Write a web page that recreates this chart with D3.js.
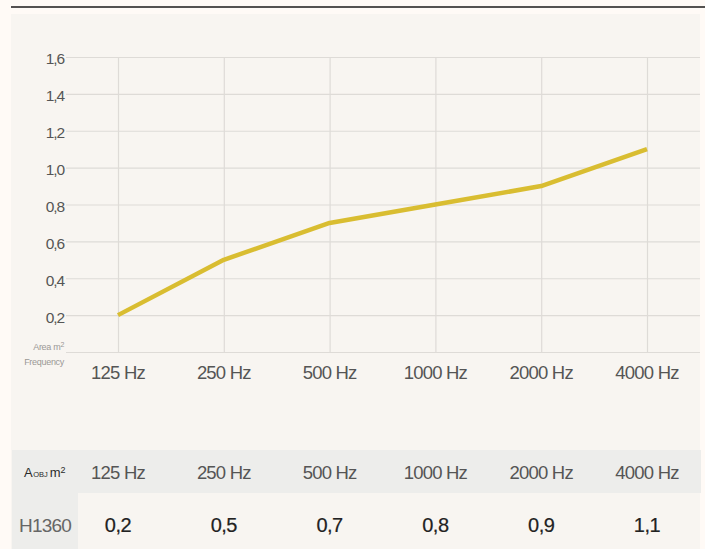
<!DOCTYPE html>
<html>
<head>
<meta charset="utf-8">
<script src="https://cdn.jsdelivr.net/npm/d3@7"></script>
<style>
  html, body { margin: 0; padding: 0; background: #fffaf6; }
  svg { display: block; font-family: "Liberation Sans", Arial, sans-serif; }
</style>
</head>
<body>
<div id="chart"></div>
<script>
// data
const frequencies = ['125 Hz', '250 Hz', '500 Hz', '1000 Hz', '2000 Hz', '4000 Hz'];
const areaValues = [0.2, 0.5, 0.7, 0.8, 0.9, 1.1];
const yTicks = [0.2, 0.4, 0.6, 0.8, 1.0, 1.2, 1.4, 1.6];
const productName = 'H1360';

const w = 705;
const h = 549;

const fmt = v => d3.format('.1f')(v).replace('.', ',');

const svg = d3.select('#chart')
  .append('svg')
  .attr('width', w)
  .attr('height', h);

// top rule
svg.append('rect')
  .attr('x', 11).attr('y', 6)
  .attr('width', w - 11).attr('height', 2)
  .attr('fill', '#545150');

// panel
svg.append('rect')
  .attr('x', 11).attr('y', 14)
  .attr('width', 689).attr('height', h - 14)
  .attr('fill', '#f8f5f1');

const xScale = d3.scalePoint()
  .domain(frequencies)
  .range([118, 647]);

const yScale = d3.scaleLinear()
  .domain([0, 1.6])
  .range([352, 57]);

// horizontal grid
const yAxis = d3.axisLeft(yScale)
  .tickValues([0].concat(yTicks))
  .tickSize(-(700 - 66))
  .tickFormat(d => d === 0 ? '' : fmt(d));

const gy = svg.append('g')
  .attr('transform', 'translate(66,0)')
  .call(yAxis);
gy.select('.domain').remove();
gy.selectAll('.tick line')
  .attr('stroke', '#dedbd7')
  .attr('stroke-width', 1.2);
gy.selectAll('.tick text')
  .attr('x', -2)
  .attr('dy', '0.45em')
  .attr('fill', '#555')
  .style('font-size', '15.5px')
  .style('letter-spacing', '-1.1px');

// vertical grid
const xAxis = d3.axisBottom(xScale)
  .tickSize(-(352 - 57))
  .tickFormat('');
const gx = svg.append('g')
  .attr('transform', 'translate(0,352)')
  .call(xAxis);
gx.select('.domain').remove();
gx.selectAll('.tick line')
  .attr('stroke', '#dedbd7')
  .attr('stroke-width', 1.2);

// x labels
svg.append('g')
  .selectAll('text')
  .data(frequencies)
  .enter()
  .append('text')
  .attr('x', d => xScale(d))
  .attr('y', 379)
  .attr('text-anchor', 'middle')
  .attr('fill', '#555')
  .style('font-size', '18.5px')
  .style('letter-spacing', '-0.8px')
  .text(d => d);

// axis captions
const area = svg.append('text')
  .attr('x', 64).attr('y', 350)
  .attr('text-anchor', 'end')
  .attr('fill', '#9a9896')
  .style('font-size', '9px')
  .style('letter-spacing', '-0.3px');
area.append('tspan').text('Area m');
area.append('tspan').attr('dy', -3).style('font-size', '7px').text('2');

svg.append('text')
  .attr('x', 64).attr('y', 365)
  .attr('text-anchor', 'end')
  .attr('fill', '#9a9896')
  .style('font-size', '9px')
  .style('letter-spacing', '-0.3px')
  .text('Frequency');

// line
const line = d3.line()
  .x((d, i) => xScale(frequencies[i]))
  .y(d => yScale(d));

svg.append('path')
  .datum(areaValues)
  .attr('fill', 'none')
  .attr('stroke', '#d9bd31')
  .attr('stroke-width', 4.5)
  .attr('stroke-linejoin', 'round')
  .attr('d', line);

// table
svg.append('rect')
  .attr('x', 12).attr('y', 450)
  .attr('width', 689).attr('height', 43)
  .attr('fill', '#ededeb');
svg.append('rect')
  .attr('x', 12).attr('y', 493)
  .attr('width', 66).attr('height', h - 493)
  .attr('fill', '#ededeb');

const head = svg.append('text')
  .attr('x', 24).attr('y', 477)
  .attr('fill', '#2a2a2a')
  .style('font-size', '13px');
head.append('tspan').text('A');
head.append('tspan').style('font-size', '7.5px').attr('dx', 0.5).text('OBJ');
head.append('tspan').attr('dx', 2).text('m');
head.append('tspan').attr('dy', -4).style('font-size', '9px').text('2');

svg.append('g')
  .selectAll('text')
  .data(frequencies)
  .enter()
  .append('text')
  .attr('x', d => xScale(d))
  .attr('y', 479)
  .attr('text-anchor', 'middle')
  .attr('fill', '#555')
  .style('font-size', '18.5px')
  .style('letter-spacing', '-0.8px')
  .text(d => d);

svg.append('text')
  .attr('x', 45).attr('y', 532)
  .attr('text-anchor', 'middle')
  .attr('fill', '#666')
  .style('font-size', '19px')
  .style('letter-spacing', '-0.8px')
  .text(productName);

svg.append('g')
  .selectAll('text')
  .data(areaValues)
  .enter()
  .append('text')
  .attr('x', (d, i) => xScale(frequencies[i]))
  .attr('y', 532)
  .attr('text-anchor', 'middle')
  .attr('fill', '#222')
  .attr('stroke', '#222')
  .attr('stroke-width', 0.2)
  .style('font-size', '20px')
  .style('letter-spacing', '-0.5px')
  .text(d => fmt(d));
</script>
</body>
</html>
